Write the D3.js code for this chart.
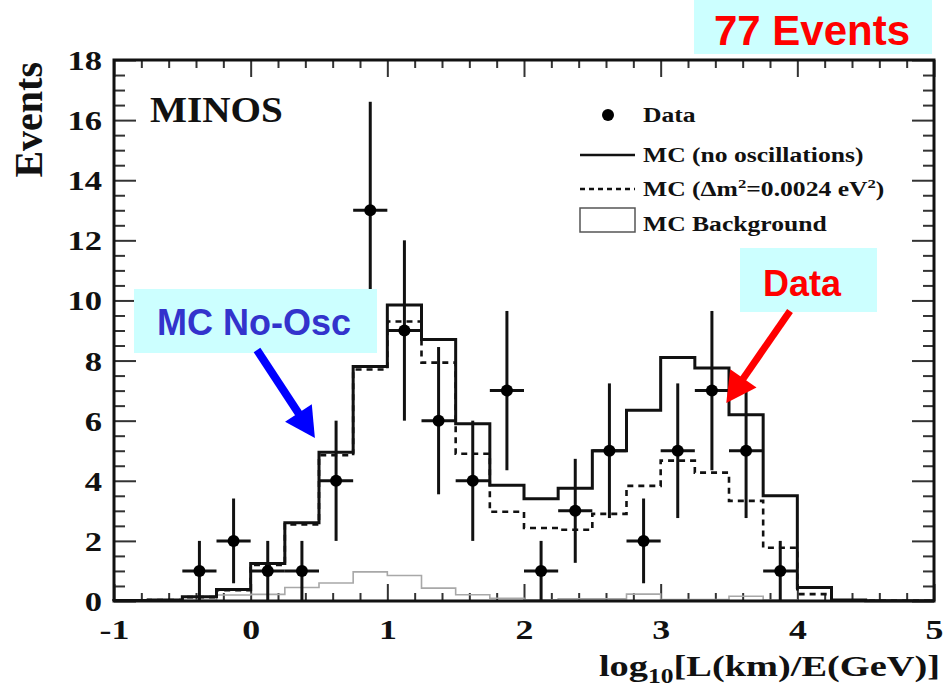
<!DOCTYPE html>
<html><head><meta charset="utf-8">
<script src="https://cdn.jsdelivr.net/npm/d3@7"></script>
<style>body{margin:0;background:#fff} svg{display:block}</style>
</head><body><svg id="c" width="945" height="688"></svg>
<script>
// ---------- data ----------
const binEdges = [-1,-0.75,-0.5,-0.25,0,0.25,0.5,0.75,1,1.25,1.5,1.75,2,2.25,2.5,2.75,3,3.25,3.5,3.75,4,4.25,4.5,4.75,5];
const mcNoOsc = [0.02,0.03,0.14,0.38,1.25,2.6,4.95,7.8,9.85,8.7,5.9,3.85,3.4,3.75,5.0,6.35,8.1,7.75,6.2,3.5,0.45,0.03,0.01,0.01];
const mcOsc   = [0.02,0.03,0.13,0.36,1.2,2.55,4.85,7.7,9.3,7.93,4.9,2.97,2.43,2.37,2.9,3.83,4.67,4.27,3.33,1.77,0.23,0.02,0.01,0.01];
const mcBackground = [0,0,0.02,0.2,0.22,0.45,0.6,0.97,0.85,0.43,0.21,0.09,0.04,0.07,0.07,0.23,0.05,0.05,0.16,0.03,0.01,0,0,0];
const dataX = [-0.375,-0.125,0.125,0.375,0.625,0.875,1.125,1.375,1.625,1.875,2.125,2.375,2.625,2.875,3.125,3.375,3.625,3.875];
const dataCounts = [1,2,1,1,4,13,9,6,4,7,1,3,5,2,5,7,5,1];
const dataErrors = [1,1.41,1,1,2,3.61,3,2.45,2,2.65,1,1.73,2.24,1.41,2.24,2.65,2.24,1];
const dataHalfWidth = 0.125;
const xTicks = [-1,0,1,2,3,4,5];
const xTickLabels = ['-1','0','1','2','3','4','5'];
const xMinorTicks = d3.range(-1,5.001,0.2).map(v=>+v.toFixed(2));
const yTicks = [0,2,4,6,8,10,12,14,16,18];
const yTickLabels = ['0','2','4','6','8','10','12','14','16','18'];
const yMinorTicks = d3.range(0,18.001,0.5);

// ---------- layout ----------
const svg = d3.select('#c');
const L=114, R=934, T=60, B=601;
const x = d3.scaleLinear().domain([-1,5]).range([L,R]);
const y = d3.scaleLinear().domain([0,18]).range([B,T]);
const serif = '"Liberation Serif","Times New Roman",serif';
const sans = '"Liberation Sans",Arial,sans-serif';
const SX = 1.28;

// ---------- axes ----------
function ax(gen, tr, vals, size, fmt){
  const g = svg.append('g').attr('transform',tr)
    .call(gen.tickValues(vals).tickSize(size).tickFormat(fmt||''));
  g.select('.domain').remove();
  g.selectAll('line').attr('stroke','#333').attr('stroke-width',2);
  return g;
}
const xMinorOnly = xMinorTicks.filter(v=>!xTicks.some(t=>Math.abs(t-v)<1e-6));
const yMinorOnly = yMinorTicks.filter(v=>!yTicks.some(t=>Math.abs(t-v)<1e-6));
ax(d3.axisBottom(x), `translate(0,${B})`, xMinorOnly, -8);
ax(d3.axisTop(x), `translate(0,${T})`, xMinorOnly, -8);
ax(d3.axisTop(x), `translate(0,${T})`, xTicks, -17);
ax(d3.axisLeft(y), `translate(${L},0)`, yMinorOnly, -11);
ax(d3.axisRight(y), `translate(${R},0)`, yMinorOnly, -11);
ax(d3.axisRight(y), `translate(${R},0)`, yTicks, -22);
const gx = ax(d3.axisBottom(x), `translate(0,${B})`, xTicks, -17, (d,i)=>xTickLabels[i]);
gx.selectAll('text').attr('y',28).attr('dy','0.35em')
  .attr('transform',`scale(${SX},1)`)
  .attr('font-family',serif).attr('font-weight','bold').attr('font-size',28).attr('fill','#111');
const gy = ax(d3.axisLeft(y), `translate(${L},0)`, yTicks, -22, (d,i)=>yTickLabels[i]);
gy.selectAll('text').attr('x',-12/SX).attr('dy','0.35em')
  .attr('transform',`scale(${SX},1)`)
  .attr('font-family',serif).attr('font-weight','bold').attr('font-size',27).attr('fill','#111');

// ---------- histograms ----------
function histPts(vals){
  const p=[[binEdges[0],0]];
  vals.forEach((v,i)=>p.push([binEdges[i],v]));
  p.push([binEdges[binEdges.length-1],vals[vals.length-1]]);
  return p;
}
const line = d3.line().x(d=>x(d[0])).y(d=>y(d[1])).curve(d3.curveStepAfter);
svg.append('path').attr('d',line(histPts(mcBackground))).attr('fill','none')
  .attr('stroke','#a8a8a8').attr('stroke-width',1.6);
svg.append('path').attr('d',line(histPts(mcOsc))).attr('fill','none')
  .attr('stroke','#111').attr('stroke-width',2.6).attr('stroke-dasharray','6,5');
svg.append('path').attr('d',line(histPts(mcNoOsc))).attr('fill','none')
  .attr('stroke','#111').attr('stroke-width',3);

// ---------- data points ----------
const dg = svg.append('g');
dataX.forEach((xv,i)=>{
  const c=dataCounts[i], e=dataErrors[i];
  dg.append('line').attr('x1',x(xv)).attr('x2',x(xv)).attr('y1',y(Math.max(0,c-e))).attr('y2',y(c+e))
    .attr('stroke','#111').attr('stroke-width',3);
  dg.append('line').attr('x1',x(xv-dataHalfWidth)).attr('x2',x(xv+dataHalfWidth)).attr('y1',y(c)).attr('y2',y(c))
    .attr('stroke','#111').attr('stroke-width',3);
  dg.append('circle').attr('cx',x(xv)).attr('cy',y(c)).attr('r',6).attr('fill','#000');
});

// frame
svg.append('rect').attr('x',L).attr('y',T).attr('width',R-L).attr('height',B-T)
  .attr('fill','none').attr('stroke','#111').attr('stroke-width',3);

// ---------- texts ----------
function stext(xp,yp,str,size,anchor){
  return svg.append('text').attr('transform',`translate(${xp},${yp}) scale(${SX},1)`)
    .attr('font-family',serif).attr('font-weight','bold').attr('font-size',size)
    .attr('text-anchor',anchor||'start').attr('fill','#111').text(str);
}
svg.append('text').attr('transform',`translate(150,122) scale(1.12,1)`)
  .attr('font-family',serif).attr('font-weight','bold').attr('font-size',35).attr('fill','#111').text('MINOS');
svg.append('text').attr('transform','translate(42,62) rotate(-90)')
  .attr('font-family',serif).attr('font-weight','bold').attr('font-size',40)
  .attr('text-anchor','end').attr('fill','#111').text('Events');
const xt = svg.append('text').attr('transform',`translate(940,676) scale(${SX},1)`)
  .attr('font-family',serif).attr('font-weight','bold').attr('font-size',30)
  .attr('text-anchor','end').attr('fill','#111');
xt.append('tspan').text('log');
xt.append('tspan').attr('font-size',20).attr('dy',7).text('10');
xt.append('tspan').attr('dy',-7).text('[L(km)/E(GeV)]');

// ---------- legend ----------
const lg = svg.append('g');
lg.append('circle').attr('cx',608).attr('cy',115).attr('r',6).attr('fill','#000');
stext(643,122,'Data',20);
lg.append('line').attr('x1',580).attr('x2',635).attr('y1',155).attr('y2',155).attr('stroke','#111').attr('stroke-width',2.5);
stext(643,162,'MC (no oscillations)',20);
lg.append('line').attr('x1',580).attr('x2',635).attr('y1',189).attr('y2',189).attr('stroke','#111').attr('stroke-width',2.5).attr('stroke-dasharray','5,4');
const t3 = stext(643,196,'',20);
t3.append('tspan').text('MC (Δm');
t3.append('tspan').attr('font-size',13).attr('dy',-8).text('2');
t3.append('tspan').attr('dy',8).text('=0.0024 eV');
t3.append('tspan').attr('font-size',13).attr('dy',-8).text('2');
t3.append('tspan').attr('dy',8).text(')');
lg.append('rect').attr('x',580).attr('y',208).attr('width',55).attr('height',24).attr('fill','#fff').attr('stroke','#555').attr('stroke-width',1.5);
stext(643,231,'MC Background',20);

// ---------- annotations ----------
function box(x0,y0,w,h,label,col,size,tx,ty){
  svg.append('rect').attr('x',x0).attr('y',y0).attr('width',w).attr('height',h).attr('fill','#ccffff');
  svg.append('text').attr('x',tx).attr('y',ty).attr('text-anchor','middle')
    .attr('font-family',sans).attr('font-weight','bold').attr('font-size',size).attr('fill',col).text(label);
}
box(694,0,238,54,'77 Events','#ff0000',42,812,45);
box(134,289,243,64,'MC No-Osc','#3333cc',36,254,335);
box(740,248,137,64,'Data','#ff0000',36,802,296);

function arrow(x1,y1,x2,y2,col,w,hl,hw){
  const dx=x2-x1, dy=y2-y1, len=Math.hypot(dx,dy), ux=dx/len, uy=dy/len;
  const bx=x2-ux*hl, by=y2-uy*hl;
  svg.append('line').attr('x1',x1).attr('y1',y1).attr('x2',bx+ux*2).attr('y2',by+uy*2)
    .attr('stroke',col).attr('stroke-width',w);
  svg.append('path').attr('d',`M${x2},${y2}L${bx-uy*hw},${by+ux*hw}L${bx+uy*hw},${by-ux*hw}Z`).attr('fill',col);
}
arrow(257,350,x(0.47),y(5.42),'#0000ff',8,30,16);
arrow(790,311,x(3.48),y(6.59),'#ff0000',7,30,16);
</script></body></html>
